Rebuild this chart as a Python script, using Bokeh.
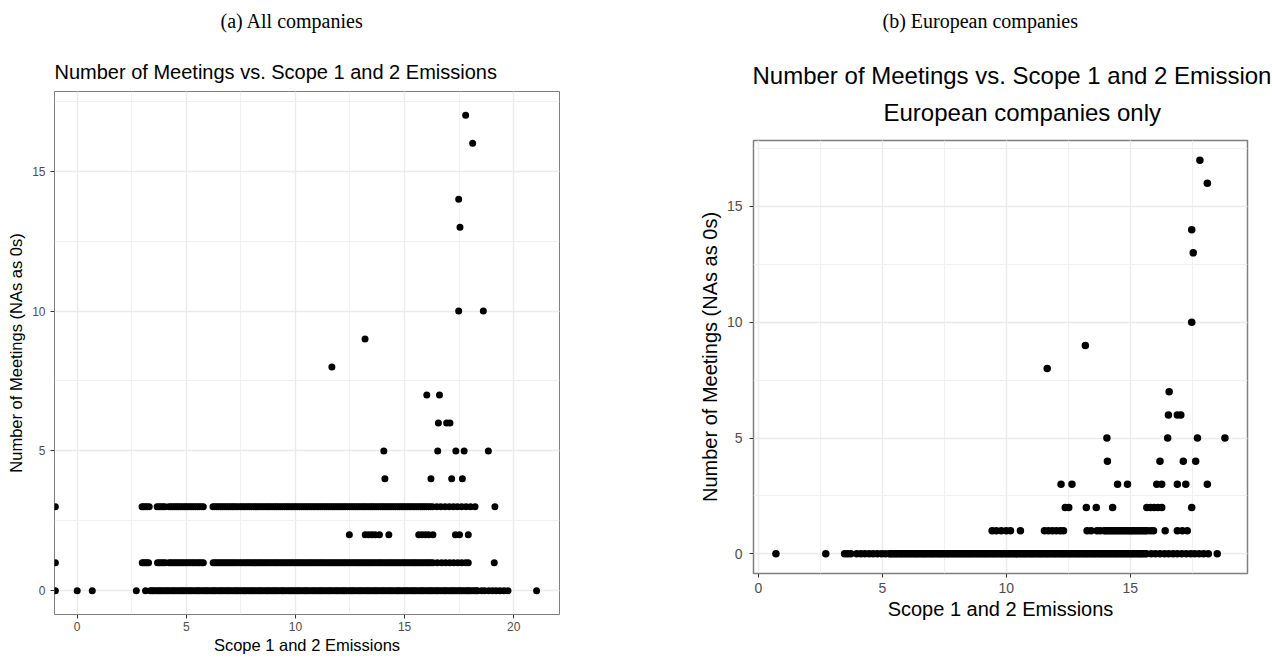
from bokeh.plotting import figure
from bokeh.layouts import row, column
from bokeh.models import ColumnDataSource, Range1d, SingleIntervalTicker, Title
from bokeh.embed import file_html
from bokeh.resources import INLINE

# ---------------- data: panel (a) all companies ----------------
# emissions values (x) of the companies at each meeting count (y)
all_m0 = [-1.0, 0.0, 0.69, 2.71, 3.13, 3.35, 3.5, 3.69, 3.85, 4.04, 4.2, 4.39, 4.56, 4.75, 4.91, 5.1,
          5.26, 5.46, 5.62, 5.81, 5.97, 6.17, 6.32, 6.52, 6.68, 6.87, 7.03, 7.23, 7.38, 7.58, 7.74,
          7.93, 8.09, 8.29, 8.44, 8.64, 8.8, 8.99, 9.15, 9.35, 9.5, 9.7, 9.86, 10.05, 10.21, 10.41,
          10.56, 10.76, 10.92, 11.11, 11.27, 11.47, 11.62, 11.82, 11.98, 12.17, 12.33, 12.53, 12.68,
          12.88, 13.04, 13.23, 13.39, 13.59, 13.74, 13.94, 14.1, 14.29, 14.45, 14.65, 14.8, 15.0,
          15.16, 15.35, 15.51, 15.71, 15.86, 16.06, 16.22, 16.41, 16.57, 16.77, 16.92, 17.12, 17.28,
          17.47, 17.63, 17.83, 17.98, 18.18, 18.34, 18.53, 18.67, 18.86, 19.03, 19.19, 19.37, 19.56,
          19.74, 21.05]
all_m0_more = [3.43, 3.6, 3.77, 3.95, 4.12, 4.3, 4.47, 4.66, 4.83, 5.0, 5.18, 5.36, 5.54, 5.72,
               5.9, 6.07, 6.25, 6.42, 6.6, 6.78, 6.95, 7.13, 7.3, 7.48, 7.66, 7.84, 8.01, 8.19,
               8.37, 8.54, 8.72, 8.9, 9.07, 9.25, 9.42, 9.6, 9.78, 9.95, 10.13, 10.31, 10.48,
               10.66, 10.84, 11.02, 11.19, 11.37, 11.55, 11.72, 11.9, 12.08, 12.25, 12.43, 12.61,
               12.78, 12.96, 13.14, 13.31, 13.49, 13.67, 13.84, 14.02, 14.2, 14.37, 14.55, 14.72,
               14.9, 15.08, 15.26, 15.43, 15.61, 15.79, 15.96, 16.14, 16.31, 16.49, 16.67, 16.85,
               17.02, 17.2, 17.37, 17.55, 17.73, 17.9, 18.08, 18.26]
all_m1 = [-1.0, 2.98, 3.12, 3.27, 3.68, 3.86, 4.03, 4.2, 4.37, 4.55, 4.73, 4.9, 5.08, 5.26, 5.43,
          5.6, 5.78, 6.23, 6.4, 6.57, 6.75, 6.93, 7.1, 7.28, 7.47, 7.66, 7.83, 8.0, 8.18, 8.36, 8.53,
          8.7, 8.88, 9.06, 9.23, 9.41, 9.59, 9.76, 9.94, 10.12, 10.29, 10.47, 10.65, 10.82, 11.0,
          11.18, 11.35, 11.53, 11.71, 11.88, 12.06, 12.24, 12.41, 12.59, 12.77, 12.94, 13.12, 13.3,
          13.47, 13.65, 13.83, 14.0, 14.18, 14.36, 14.53, 14.71, 14.89, 15.06, 15.24, 15.42, 15.59,
          15.77, 15.95, 16.12, 16.3, 16.5, 16.7, 16.88, 17.07, 17.25, 17.44, 17.62, 17.8, 17.92, 19.11]
all_m1_more = [3.05, 3.2, 3.77, 3.95, 4.28, 4.46, 4.64, 4.81, 4.99, 5.17, 5.34, 5.52, 5.69, 6.31,
               6.49, 6.66, 6.84, 7.01, 7.19, 7.37, 7.56, 7.74, 7.91, 8.09, 8.27, 8.44, 8.62, 8.79,
               8.97, 9.14, 9.32, 9.5, 9.67, 9.85, 10.03, 10.2, 10.38, 10.56, 10.73, 10.91, 11.09,
               11.26, 11.44, 11.62, 11.79, 11.97, 12.15, 12.32, 12.5, 12.68, 12.85, 13.03, 13.21,
               13.38, 13.56, 13.74, 13.91, 14.09, 14.27, 14.44, 14.62, 14.8, 14.97, 15.15, 15.33,
               15.5, 15.68, 15.86, 16.04, 16.21]
all_m2 = [12.47, 13.2, 13.35, 13.5, 13.65, 13.85, 14.28, 15.65, 15.8, 15.95, 16.1, 16.3, 17.33,
          17.52, 17.92]
all_m3 = [-1.0, 2.97, 3.12, 3.3, 3.66, 3.84, 4.02, 4.2, 4.38, 4.55, 4.72, 4.9, 5.07, 5.25, 5.42,
          5.6, 5.78, 6.22, 6.39, 6.57, 6.74, 6.92, 7.1, 7.27, 7.47, 7.64, 7.82, 7.99, 8.17, 8.34,
          8.52, 8.7, 8.87, 9.05, 9.22, 9.4, 9.58, 9.75, 9.93, 10.1, 10.28, 10.46, 10.63, 10.81,
          10.98, 11.16, 11.34, 11.51, 11.69, 11.86, 12.04, 12.22, 12.39, 12.57, 12.74, 12.92, 13.1,
          13.27, 13.45, 13.62, 13.8, 13.98, 14.15, 14.33, 14.5, 14.68, 14.86, 15.03, 15.21, 15.38,
          15.56, 15.74, 15.91, 16.09, 16.28, 16.48, 16.66, 16.86, 17.05, 17.24, 17.42, 17.62, 17.82,
          18.02, 18.23, 19.14]
all_m3_more = [3.04, 3.21, 3.75, 3.93, 4.29, 4.47, 4.63, 4.81, 4.98, 5.16, 5.33, 5.51, 5.69, 6.3,
               6.48, 6.65, 6.83, 7.01, 7.18, 7.36, 7.55, 7.73, 7.9, 8.08, 8.25, 8.43, 8.61, 8.78,
               8.96, 9.13, 9.31, 9.49, 9.66, 9.84, 10.01, 10.19, 10.37, 10.54, 10.72, 10.89, 11.07,
               11.25, 11.42, 11.6, 11.77, 11.95, 12.13, 12.3, 12.48, 12.65, 12.83, 13.01, 13.18,
               13.36, 13.53, 13.71, 13.89, 14.06, 14.24, 14.41, 14.59, 14.77, 14.94, 15.12, 15.29,
               15.47, 15.65, 15.82, 16.0, 16.18]
all_m4 = [14.1, 16.21, 17.16, 17.65]
all_m5 = [14.05, 16.52, 17.35, 17.73, 18.84]
all_m6 = [16.55, 16.93, 17.08]
all_m7 = [16.02, 16.6]
all_m8 = [11.67]
all_m9 = [13.19]
all_m10 = [17.48, 18.61]
all_m13 = [17.54]
all_m14 = [17.48]
all_m16 = [18.12]
all_m17 = [17.8]

# ---------------- data: panel (b) European companies ----------------
eu_m0 = [0.71, 2.72, 3.48, 3.6, 3.73, 3.97, 4.14, 4.3, 4.47, 4.63, 4.8, 4.97, 5.12, 5.28, 5.42,
         5.57, 5.73, 5.88, 6.04, 6.19, 6.35, 6.5, 6.66, 6.81, 6.97, 7.12, 7.28, 7.43, 7.59, 7.74,
         7.9, 8.05, 8.21, 8.36, 8.52, 8.67, 8.83, 8.98, 9.14, 9.29, 9.45, 9.6, 9.76, 9.91, 10.07,
         10.22, 10.38, 10.53, 10.69, 10.84, 11.0, 11.15, 11.31, 11.46, 11.62, 11.77, 11.93, 12.08,
         12.24, 12.39, 12.55, 12.7, 12.86, 13.01, 13.17, 13.32, 13.48, 13.63, 13.79, 13.94, 14.1,
         14.25, 14.41, 14.56, 14.72, 14.87, 15.03, 15.18, 15.34, 15.49, 15.65, 15.85, 16.02, 16.2,
         16.38, 16.55, 16.73, 16.9, 17.08, 17.26, 17.44, 17.6, 17.78, 17.96, 18.15, 18.51]
eu_m0_more = [5.35, 5.5, 5.65, 5.8, 5.96, 6.11, 6.27, 6.42, 6.58, 6.73, 6.89, 7.04, 7.2, 7.35, 7.51,
              7.66, 7.82, 7.97, 8.13, 8.28, 8.44, 8.59, 8.75, 8.9, 9.06, 9.21, 9.37, 9.52, 9.68,
              9.83, 9.99, 10.14, 10.3, 10.45, 10.61, 10.76, 10.92, 11.07, 11.23, 11.38, 11.54,
              11.69, 11.85, 12.0, 12.16, 12.31, 12.47, 12.62, 12.78, 12.93, 13.09, 13.24, 13.4,
              13.55, 13.71, 13.86, 14.02, 14.17, 14.33, 14.48, 14.64, 14.79, 14.95, 15.1, 15.26,
              15.41, 15.57]
eu_m1 = [9.43, 9.6, 9.8, 10.0, 10.17, 10.57, 11.54, 11.7, 11.86, 12.02, 12.18, 12.31, 13.26, 13.42,
         13.66, 13.79, 13.95, 14.1, 14.26, 14.42, 14.58, 14.74, 14.9, 15.05, 15.2, 15.36, 15.52,
         15.68, 15.82, 15.94, 16.41, 16.9, 17.1, 17.3]
eu_m1_more = [14.02, 14.18, 14.34, 14.5, 14.66, 14.82, 14.97, 15.12, 15.28, 15.44, 15.6]
eu_m2 = [12.38, 12.52, 13.23, 13.63, 14.29, 15.67, 15.82, 15.97, 16.12, 16.27, 17.48]
eu_m3 = [12.21, 12.65, 14.49, 14.89, 16.07, 16.27, 16.9, 17.24, 18.11]
eu_m4 = [14.08, 16.2, 17.14, 17.64]
eu_m5 = [14.06, 16.51, 17.71, 18.82]
eu_m6 = [16.54, 16.9, 17.04]
eu_m7 = [16.57]
eu_m8 = [11.65]
eu_m9 = [13.19]
eu_m10 = [17.48]
eu_m13 = [17.54]
eu_m14 = [17.48]
eu_m16 = [18.11]
eu_m17 = [17.81]

all_levels = {0: all_m0 + all_m0_more, 1: all_m1 + all_m1_more, 2: all_m2,
              3: all_m3 + all_m3_more, 4: all_m4, 5: all_m5, 6: all_m6, 7: all_m7, 8: all_m8,
              9: all_m9, 10: all_m10, 13: all_m13, 14: all_m14, 16: all_m16, 17: all_m17}
eu_levels = {0: eu_m0 + eu_m0_more, 1: eu_m1 + eu_m1_more, 2: eu_m2, 3: eu_m3, 4: eu_m4,
             5: eu_m5, 6: eu_m6, 7: eu_m7, 8: eu_m8, 9: eu_m9, 10: eu_m10, 13: eu_m13,
             14: eu_m14, 16: eu_m16, 17: eu_m17}

title_text = "Number of Meetings vs. Scope 1 and 2 Emissions"
subtitle_text = "European companies only"
x_title = "Scope 1 and 2 Emissions"
y_title = "Number of Meetings (NAs as 0s)"
caption_a = "(a) All companies"
caption_b = "(b) European companies"

SANS = "Liberation Sans"
SERIF = "Liberation Serif"


def to_source(levels):
    xs, ys = [], []
    for lvl, vals in levels.items():
        xs.extend(vals)
        ys.extend([lvl] * len(vals))
    return ColumnDataSource(dict(emissions=xs, meetings=ys))


def add_title(p, text, font, size, offset, standoff):
    p.add_layout(Title(text=text, align="left", offset=offset, standoff=standoff,
                       text_font=font, text_font_size=size, text_font_style="normal",
                       text_color="black"), "above")


def make_caption(width, left, right, text, offset):
    c = figure(width=width, height=40, output_backend="svg", toolbar_location=None,
               min_border_left=left, min_border_right=right, min_border_top=38,
               min_border_bottom=0)
    c.axis.visible = False
    c.grid.visible = False
    c.outline_line_color = None
    c.background_fill_color = "white"
    c.border_fill_color = "white"
    add_title(c, text, SERIF, "20px", offset, 14)
    return c


def make_panel(width, height, borders, xr, yr, tick_font, axis_font, outline_w,
               label_standoffs, title_standoffs):
    left, right, top, bottom = borders
    p = figure(width=width, height=height, output_backend="svg", toolbar_location=None,
               x_range=Range1d(*xr), y_range=Range1d(*yr),
               min_border_left=left, min_border_right=right,
               min_border_top=top, min_border_bottom=bottom)
    p.background_fill_color = "white"
    p.border_fill_color = "white"
    p.outline_line_color = "#7f7f7f"
    p.outline_line_width = outline_w
    axes = ((p.xaxis[0], label_standoffs[0], title_standoffs[0]),
            (p.yaxis[0], label_standoffs[1], title_standoffs[1]))
    for ax, so, tso in axes:
        ax.ticker = SingleIntervalTicker(interval=5, num_minor_ticks=2)
        ax.axis_line_color = None
        ax.major_tick_in = 0
        ax.major_tick_out = 4
        ax.major_tick_line_color = "#333333"
        ax.minor_tick_line_color = None
        ax.major_label_text_font = SANS
        ax.major_label_text_font_size = tick_font
        ax.major_label_text_color = "#4d4d4d"
        ax.major_label_standoff = so
        ax.axis_label_text_font = SANS
        ax.axis_label_text_font_size = axis_font
        ax.axis_label_text_font_style = "normal"
        ax.axis_label_text_color = "black"
        ax.axis_label_standoff = tso
    p.xaxis[0].axis_label = x_title
    p.yaxis[0].axis_label = y_title
    for g in (p.xgrid[0], p.ygrid[0]):
        g.ticker = SingleIntervalTicker(interval=5, num_minor_ticks=2)
        g.grid_line_color = "#ebebeb"
        g.grid_line_width = 1.4
        g.minor_grid_line_color = "#f0f0f0"
        g.minor_grid_line_width = 1
    return p


# ---- panel (a) ----
cap_a = make_caption(636, 54, 77, caption_a, 166)
pa = make_panel(636, 620, (54, 77, 51, 46), (-1.04, 22.1), (-0.85, 17.85), "12px", "16.5px", 1,
                (3, 5), (2, 4))
pa.scatter("emissions", "meetings", source=to_source(all_levels), size=7,
           fill_color="black", line_color=None)
add_title(pa, title_text, SANS, "20px", 0, 17)

# ---- panel (b) ----
cap_b = make_caption(636, 117, 25, caption_b, 129)
pb = make_panel(636, 620, (117, 25, 100, 87), (-0.195, 19.73), (-0.85, 17.85), "14px", "20px", 1.5,
                (5, 7), (2, 3))
pb.scatter("emissions", "meetings", source=to_source(eu_levels), size=7.5,
           fill_color="black", line_color=None)
add_title(pb, subtitle_text, SANS, "24px", 130, 29)
add_title(pb, title_text, SANS, "24px", -1, -12)

layout = row(column(cap_a, pa), column(cap_b, pb))
open("out.html", "w").write(file_html(layout, INLINE))
